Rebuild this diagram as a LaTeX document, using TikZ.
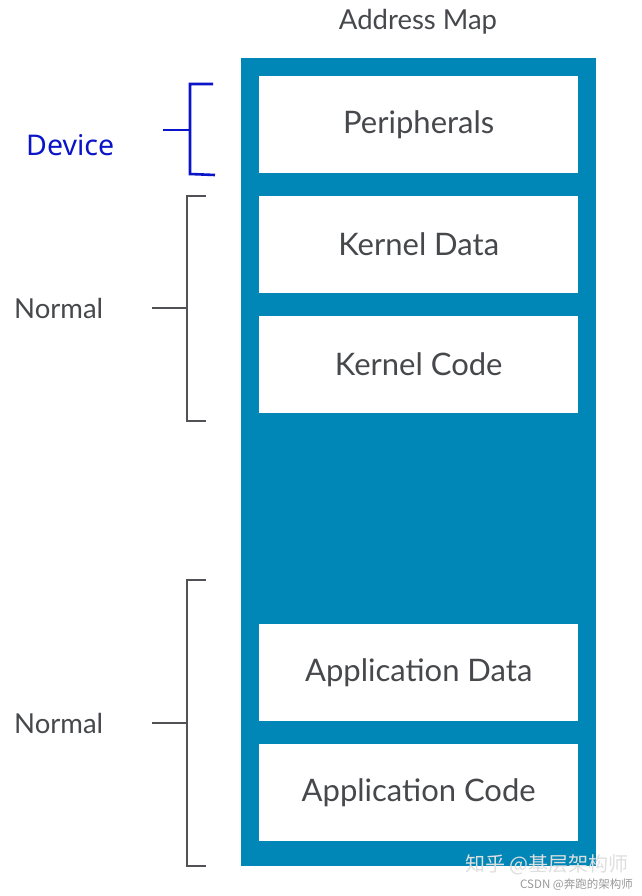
\documentclass[tikz,border=0pt]{standalone}
\usepackage{fontspec}
\setmainfont{Lato}
\newfontfamily\devfont{Noto Sans}
\newfontfamily\cjkfont{Noto Sans CJK SC}
\definecolor{mapblue}{RGB}{0,135,183}
\definecolor{txtgray}{RGB}{70,72,76}
\definecolor{brgray}{RGB}{80,82,86}
\definecolor{devblue}{RGB}{10,20,200}
\begin{document}
\begin{tikzpicture}[x=1pt,y=-1pt,
  region/.style={draw=none,fill=white,minimum width=319pt,minimum height=97pt,anchor=north west,inner sep=0pt,
    text=txtgray,font=\fontsize{31}{36}\selectfont},
  bracket/.style={draw=brgray,line width=2.6pt},
  lbl/.style={text=txtgray,font=\fontsize{27.5}{32}\selectfont,anchor=west,inner sep=0pt}]
\useasboundingbox (0,0) rectangle (641,896);
\fill[white] (0,0) rectangle (641,896);
% title
\node[text=txtgray,font=\fontsize{27.5}{32}\selectfont] (title) at (418,22) {Address Map};
% outer map
\fill[mapblue] (241,58) rectangle (596,866);
\node[region] (per) at (259,76) {Peripherals};
\node[region] (kd) at (259,196) {Kernel Data};
\node[region] (kc) at (259,316) {Kernel Code};
\node[region] (ad) at (259,624) {Application Data};
\node[region] (ac) at (259,744) {Application Code};
% Device bracket
\draw[draw=devblue,line width=2.6pt] (213,84) -- (190,84) -- (190,174) -- (215,175);
\draw[draw=devblue,line width=2.6pt] (163,130) -- (190,130);
\node[text=devblue,font=\devfont\fontsize{28.5}{33}\selectfont,anchor=west,inner sep=0pt] (dev) at (26,145) {Device};
% Normal bracket 1
\draw[bracket] (206,196) -- (187,196) -- (187,421) -- (206,421);
\draw[bracket] (152,308) -- (187,308);
\node[lbl] (n1) at (14,308) {Normal};
% Normal bracket 2
\draw[bracket] (206,580) -- (187,580) -- (187,866) -- (206,866);
\draw[bracket] (152,723) -- (187,723);
\node[lbl] (n2) at (14,723) {Normal};
% watermark
\node[text=gray!25,font=\cjkfont\fontsize{20}{24}\selectfont,anchor=west,inner sep=0pt] (wm1) at (465,865) {知乎 @基层架构师};
\node[text=gray!80,font=\cjkfont\fontsize{11.5}{14}\selectfont,anchor=west,inner sep=0pt] (wm2) at (520,885) {CSDN @奔跑的架构师};
\end{tikzpicture}
\end{document}
